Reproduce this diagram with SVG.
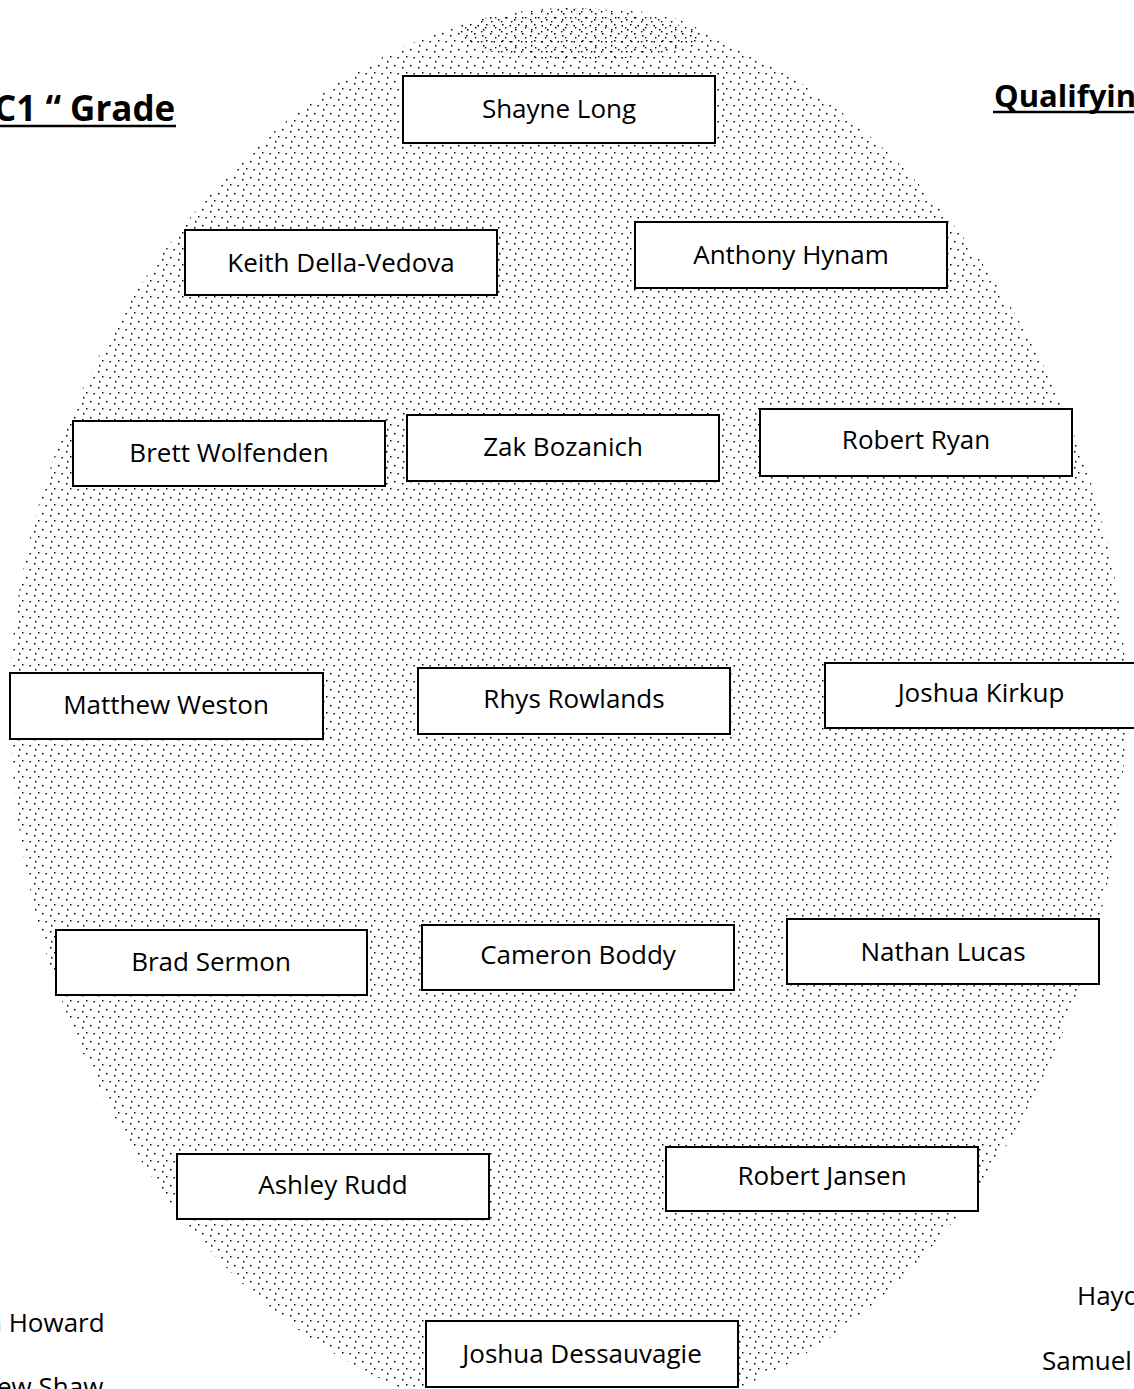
<svg xmlns="http://www.w3.org/2000/svg" width="1134" height="1389" viewBox="0 0 1134 1389">
<style>
.box{fill:#ffffff;stroke:#000000;stroke-width:2}
.nm{font-family:"Open Sans","Liberation Sans",sans-serif;font-size:26px;fill:#000000;text-anchor:middle}
.side{font-family:"Open Sans","Liberation Sans",sans-serif;font-size:26px;fill:#000000}
.title{font-family:"Open Sans","Liberation Sans",sans-serif;font-weight:bold;fill:#000000}
.ul{stroke:#000000;stroke-width:2.5}
</style>
<defs>
<pattern id="stip" width="16" height="16" patternUnits="userSpaceOnUse">
<rect x="2" y="3" width="1.5" height="1.5" fill="#000"/>
<rect x="10" y="1" width="1.5" height="1.5" fill="#000"/>
<rect x="6" y="8" width="1.5" height="1.5" fill="#000"/>
<rect x="13.5" y="9" width="1.5" height="1.5" fill="#000"/>
<rect x="3" y="13" width="1.5" height="1.5" fill="#000"/>
</pattern>
<pattern id="stip2" width="10" height="10" patternUnits="userSpaceOnUse">
<rect x="5" y="7" width="1.4" height="1.4" fill="#000"/>
<rect x="1" y="1" width="1.4" height="1.4" fill="#000"/>
</pattern>
</defs>
<rect width="1134" height="1389" fill="#ffffff"/>
<g id="field">
<path d="M570 8 C855 8 1126 360 1126 700 C1126 1090 880 1422 570 1422 C260 1422 10 1090 10 700 C10 360 285 8 570 8 Z" fill="url(#stip)"/>
<ellipse cx="580" cy="34" rx="120" ry="26" fill="url(#stip2)"/>
</g>
<g id="titles">
<text class="title" x="-6" y="121" font-size="35">C1 “ Grade</text>
<line class="ul" x1="0" y1="126" x2="176" y2="126"/>
<text class="title" x="994" y="107" font-size="31">Qualifyin</text>
<line class="ul" x1="993" y1="112" x2="1134" y2="112"/>
</g>
<g id="connectors"/>
<g id="n-shayne-long"><rect class="box" x="403" y="76" width="312" height="67"/><text class="nm" x="559" y="118">Shayne Long</text></g>
<g id="n-keith-della-vedova"><rect class="box" x="185" y="230" width="312" height="65"/><text class="nm" x="341" y="272">Keith Della-Vedova</text></g>
<g id="n-anthony-hynam"><rect class="box" x="635" y="222" width="312" height="66"/><text class="nm" x="791" y="264">Anthony Hynam</text></g>
<g id="n-brett-wolfenden"><rect class="box" x="73" y="421" width="312" height="65"/><text class="nm" x="229" y="462">Brett Wolfenden</text></g>
<g id="n-zak-bozanich"><rect class="box" x="407" y="415" width="312" height="66"/><text class="nm" x="563" y="456">Zak Bozanich</text></g>
<g id="n-robert-ryan"><rect class="box" x="760" y="409" width="312" height="67"/><text class="nm" x="916" y="449">Robert Ryan</text></g>
<g id="n-matthew-weston"><rect class="box" x="10" y="673" width="313" height="66"/><text class="nm" x="166" y="714">Matthew Weston</text></g>
<g id="n-rhys-rowlands"><rect class="box" x="418" y="668" width="312" height="66"/><text class="nm" x="574" y="708">Rhys Rowlands</text></g>
<g id="n-joshua-kirkup"><rect class="box" x="825" y="663" width="312" height="65"/><text class="nm" x="981" y="702">Joshua Kirkup</text></g>
<g id="n-brad-sermon"><rect class="box" x="56" y="930" width="311" height="65"/><text class="nm" x="211" y="971">Brad Sermon</text></g>
<g id="n-cameron-boddy"><rect class="box" x="422" y="925" width="312" height="65"/><text class="nm" x="578" y="964">Cameron Boddy</text></g>
<g id="n-nathan-lucas"><rect class="box" x="787" y="919" width="312" height="65"/><text class="nm" x="943" y="961">Nathan Lucas</text></g>
<g id="n-ashley-rudd"><rect class="box" x="177" y="1154" width="312" height="65"/><text class="nm" x="333" y="1194">Ashley Rudd</text></g>
<g id="n-robert-jansen"><rect class="box" x="666" y="1147" width="312" height="64"/><text class="nm" x="822" y="1185">Robert Jansen</text></g>
<g id="n-joshua-dessauvagie"><rect class="box" x="426" y="1321" width="312" height="66"/><text class="nm" x="582" y="1363">Joshua Dessauvagie</text></g>
<g id="side-names">
<text class="side" x="-14" y="1332">n Howard</text>
<text class="side" x="-3" y="1396">ew Shaw</text>
<text class="side" x="1077" y="1305">Hayden</text>
<text class="side" x="1042" y="1370">Samuel</text>
</g>
</svg>
